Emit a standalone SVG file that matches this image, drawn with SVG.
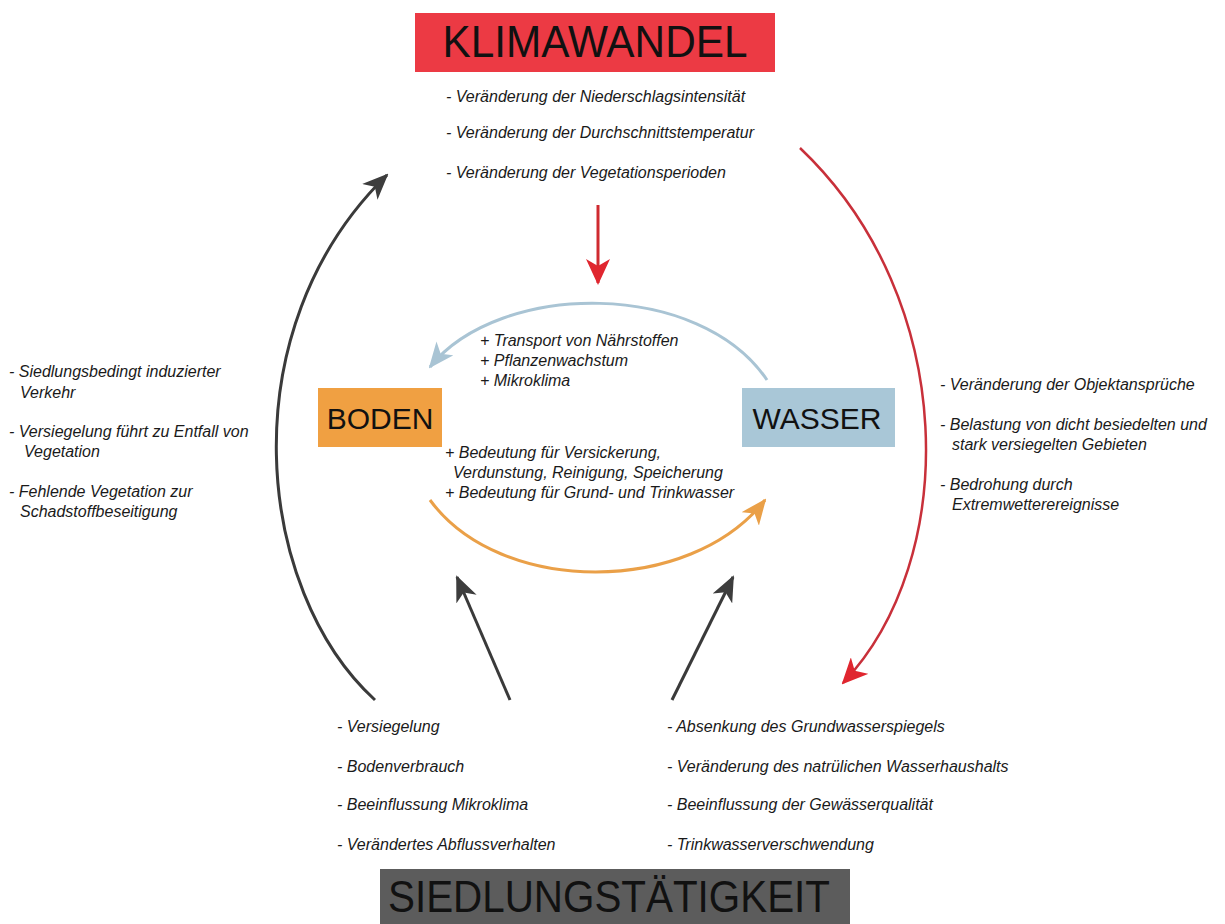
<svg xmlns="http://www.w3.org/2000/svg" width="1225" height="924" viewBox="0 0 1225 924">
<defs>
<style>
.t{font-family:"Liberation Sans",Arial,sans-serif;font-style:italic;font-size:16px;fill:#1a1a1a}
.h{font-family:"Liberation Sans",Arial,sans-serif;fill:#111}
.c{fill:none}
</style>
<marker id="aGray" markerUnits="userSpaceOnUse" markerWidth="26" markerHeight="22" viewBox="0 0 26 22" refX="24" refY="11" orient="auto">
<path d="M0,0 L26,11 L0,22 L7,11 z" fill="#3d3d3d"/>
</marker>
<marker id="aRed" markerUnits="userSpaceOnUse" markerWidth="26" markerHeight="24" viewBox="0 0 26 24" refX="24" refY="12" orient="auto">
<path d="M0,0 L26,12 L0,24 L7,12 z" fill="#e0262f"/>
</marker>
<marker id="aBlue" markerUnits="userSpaceOnUse" markerWidth="26" markerHeight="22" viewBox="0 0 26 22" refX="24" refY="11" orient="auto">
<path d="M0,0 L26,11 L0,22 L7,11 z" fill="#a9c4d4"/>
</marker>
<marker id="aOrange" markerUnits="userSpaceOnUse" markerWidth="26" markerHeight="22" viewBox="0 0 26 22" refX="24" refY="11" orient="auto">
<path d="M0,0 L26,11 L0,22 L7,11 z" fill="#eaa048"/>
</marker>
</defs>
<rect width="1225" height="924" fill="#ffffff"/>

<g id="connectors">
<path class="c" d="M598,205 L598,283" stroke="#cf2a30" stroke-width="3" marker-end="url(#aRed)"/>
<path class="c" d="M767,380 C700,280 500,280 430,367" stroke="#a9c4d4" stroke-width="3" marker-end="url(#aBlue)"/>
<path class="c" d="M430,500 C500,596 690,596 765,500" stroke="#eaa048" stroke-width="3" marker-end="url(#aOrange)"/>
<path class="c" d="M375,700 C255,590 228,330 387,175" stroke="#3a3a3a" stroke-width="3" marker-end="url(#aGray)"/>
<path class="c" d="M800,148 C960,300 960,560 843,683" stroke="#c8303a" stroke-width="2.5" marker-end="url(#aRed)"/>
<path class="c" d="M510,700 L457,577" stroke="#3a3a3a" stroke-width="3" marker-end="url(#aGray)"/>
<path class="c" d="M672,700 L733,577" stroke="#3a3a3a" stroke-width="3" marker-end="url(#aGray)"/>
</g>

<g id="klimawandel">
<rect x="415" y="13" width="360" height="59" fill="#ec3a44"/>
<text class="h" x="595" y="57" font-size="44" text-anchor="middle" textLength="305" lengthAdjust="spacingAndGlyphs">KLIMAWANDEL</text>
</g>
<g id="klimawandel-list">
<text class="t" x="446" y="102">- Veränderung der Niederschlagsintensität</text>
<text class="t" x="446" y="138">- Veränderung der Durchschnittstemperatur</text>
<text class="t" x="446" y="178">- Veränderung der Vegetationsperioden</text>
</g>

<g id="boden">
<rect x="318" y="388" width="124" height="59" fill="#f0a042"/>
<text class="h" x="380" y="429" font-size="30" text-anchor="middle">BODEN</text>
</g>
<g id="wasser">
<rect x="742" y="388" width="153" height="59" fill="#a9c7d7"/>
<text class="h" x="817" y="429" font-size="30" text-anchor="middle">WASSER</text>
</g>

<g id="wasser-boden-label">
<text class="t" x="480" y="346">+ Transport von Nährstoffen</text>
<text class="t" x="480" y="366">+ Pflanzenwachstum</text>
<text class="t" x="480" y="386">+ Mikroklima</text>
</g>
<g id="boden-wasser-label">
<text class="t" x="445" y="458">+ Bedeutung für Versickerung,</text>
<text class="t" x="453" y="478">Verdunstung, Reinigung, Speicherung</text>
<text class="t" x="445" y="498">+ Bedeutung für Grund- und Trinkwasser</text>
</g>

<g id="left-list">
<text class="t" x="9" y="377">- Siedlungsbedingt induzierter</text>
<text class="t" x="20" y="398">Verkehr</text>
<text class="t" x="9" y="437">- Versiegelung führt zu Entfall von</text>
<text class="t" x="24" y="457">Vegetation</text>
<text class="t" x="9" y="497">- Fehlende Vegetation zur</text>
<text class="t" x="20" y="517">Schadstoffbeseitigung</text>
</g>

<g id="right-list">
<text class="t" x="940" y="390">- Veränderung der Objektansprüche</text>
<text class="t" x="940" y="430">- Belastung von dicht besiedelten und</text>
<text class="t" x="952" y="450">stark versiegelten Gebieten</text>
<text class="t" x="940" y="490">- Bedrohung durch</text>
<text class="t" x="952" y="510">Extremwetterereignisse</text>
</g>

<g id="bottom-left-list">
<text class="t" x="337" y="732">- Versiegelung</text>
<text class="t" x="337" y="772">- Bodenverbrauch</text>
<text class="t" x="337" y="810">- Beeinflussung Mikroklima</text>
<text class="t" x="337" y="850">- Verändertes Abflussverhalten</text>
</g>
<g id="bottom-right-list">
<text class="t" x="667" y="732">- Absenkung des Grundwasserspiegels</text>
<text class="t" x="667" y="772">- Veränderung des natrülichen Wasserhaushalts</text>
<text class="t" x="667" y="810">- Beeinflussung der Gewässerqualität</text>
<text class="t" x="667" y="850">- Trinkwasserverschwendung</text>
</g>

<g id="siedlungstaetigkeit">
<rect x="380" y="869" width="470" height="55" fill="#5c5c5c"/>
<text class="h" x="609" y="912" font-size="44" text-anchor="middle" textLength="442" lengthAdjust="spacingAndGlyphs">SIEDLUNGSTÄTIGKEIT</text>
</g>
</svg>
